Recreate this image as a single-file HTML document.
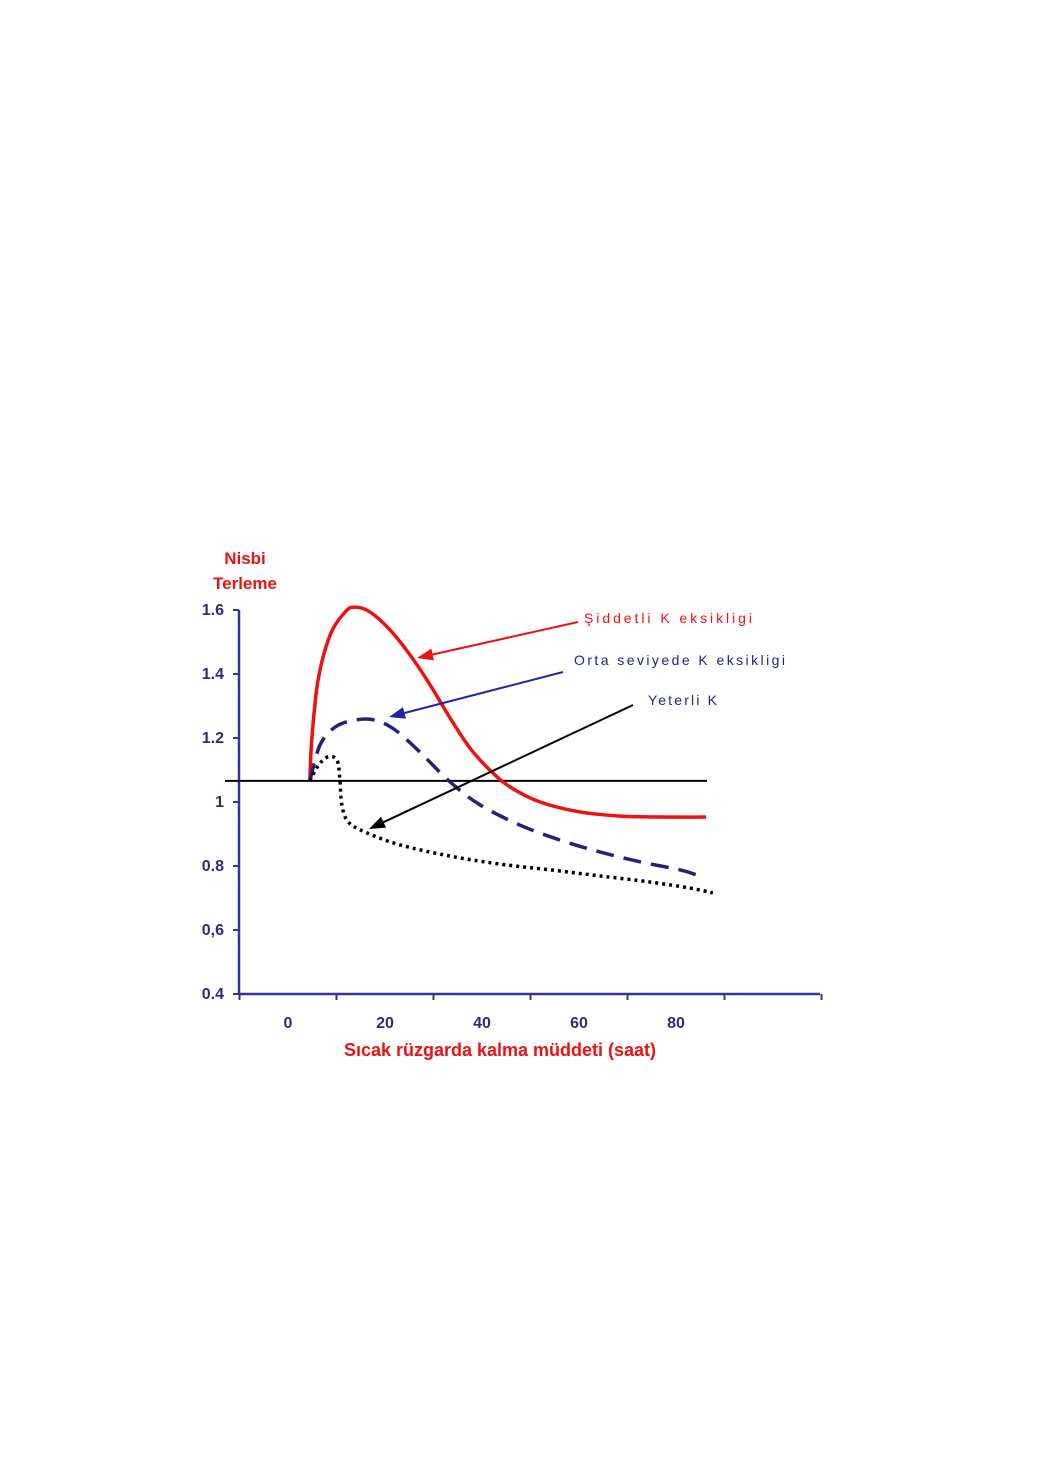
<!DOCTYPE html>
<html><head><meta charset="utf-8"><style>
html,body{margin:0;padding:0;background:#fff;}
svg{display:block;}
text{font-family:"Liberation Sans",sans-serif;}
</style></head><body>
<svg id="chart" width="1040" height="1473" viewBox="0 0 1040 1473" xmlns="http://www.w3.org/2000/svg">
<text x="245" y="564" fill="#ee1111" font-weight="bold" font-size="17" text-anchor="middle">Nisbi</text>
<text x="245" y="589" fill="#ee1111" font-weight="bold" font-size="17" text-anchor="middle">Terleme</text>
<text x="500" y="1056" fill="#ee1111" font-weight="bold" font-size="18" text-anchor="middle">Sıcak rüzgarda kalma müddeti (saat)</text>
<g id="axes"></g>
<g id="series"></g>
<g id="annotations">
<text x="584" y="623" fill="#ee1111" font-size="14" textLength="168" lengthAdjust="spacing">Şiddetli K eksikligi</text>
<text x="574" y="665" fill="#222288" font-size="14" textLength="211" lengthAdjust="spacing">Orta seviyede K eksikligi</text>
<text x="648" y="705" fill="#222288" font-size="14" textLength="69" lengthAdjust="spacing">Yeterli K</text>
</g>
</svg>
<script>
const xTickLabels = [0, 20, 40, 60, 80];
const yTickLabels = ["0.4", "0,6", "0.8", "1", "1.2", "1.4", "1.6"];
const yTickValues = [0.4, 0.6, 0.8, 1.0, 1.2, 1.4, 1.6];
const referenceLevel = 1.066;
const severeX = [4.5, 4.9, 6.2, 8.7, 11.8, 13.8, 16.9, 21.0, 25.2, 29.3, 33.4, 37.5, 41.6, 45.8, 52.0, 60.2, 68.5, 76.7, 86.2];
const severeY = [1.066, 1.194, 1.381, 1.522, 1.594, 1.609, 1.594, 1.538, 1.459, 1.366, 1.263, 1.169, 1.1, 1.047, 1.0, 0.969, 0.956, 0.953, 0.953];
const moderateX = [4.5, 6.6, 9.7, 13.8, 17.9, 22.1, 27.2, 33.4, 39.6, 47.8, 56.1, 64.3, 72.6, 80.8, 84.3];
const moderateY = [1.066, 1.178, 1.234, 1.256, 1.256, 1.225, 1.156, 1.063, 0.991, 0.928, 0.881, 0.844, 0.813, 0.788, 0.772];
const sufficientX = [4.5, 6.2, 8.2, 10.1, 10.7, 11.1, 12.4, 15.9, 23.1, 33.4, 43.7, 54.0, 64.3, 74.6, 82.9, 87.6];
const sufficientY = [1.066, 1.113, 1.141, 1.131, 1.069, 0.991, 0.938, 0.906, 0.866, 0.831, 0.806, 0.788, 0.769, 0.75, 0.731, 0.716];

const NS = "http://www.w3.org/2000/svg";
const sx = v => 288 + v * 4.85;
const sy = v => 994 - (v - 0.4) * 320;
function mk(tag, attrs, parent) {
  const e = document.createElementNS(NS, tag);
  for (const k in attrs) e.setAttribute(k, attrs[k]);
  parent.appendChild(e);
  return e;
}
const axes = document.getElementById("axes");
const yAxis = mk("line", {x1: 239, y1: sy(1.6), x2: 239, y2: sy(0.4), stroke: "#333399", "stroke-width": 2.5}, axes);


const xAxis = mk("line", {x1: 239, y1: sy(0.4), x2: 820, y2: sy(0.4), stroke: "#333399", "stroke-width": 2.5}, axes);


yTickValues.forEach((v, i) => {
  const t = mk("line", {x1: 233, y1: sy(v), x2: 239, y2: sy(v), stroke: "#333399", "stroke-width": 2}, axes);
  
  
  const l = mk("text", {x: 224, y: sy(v) + 5, fill: "#2b2b80", "font-size": 16, "font-weight": "bold", "text-anchor": "end"}, axes);
  
  
  l.textContent = yTickLabels[i];
});
for (let i = 0; i <= 6; i++) {
  const px = sx(-10 + 20 * i);
  const t = mk("line", {x1: px, y1: sy(0.4), x2: px, y2: sy(0.4) + 6, stroke: "#333399", "stroke-width": 2}, axes);
  
  
}
xTickLabels.forEach(v => {
  const l = mk("text", {x: sx(v), y: 1028, fill: "#2b2b80", "font-size": 16, "font-weight": "bold", "text-anchor": "middle"}, axes);
  
  
  l.textContent = v;
});
const ref = mk("line", {x1: 225, y1: sy(referenceLevel), x2: 707, y2: sy(referenceLevel), stroke: "#000", "stroke-width": 2}, axes);



function smoothPath(xs, ys) {
  const p = xs.map((x, i) => [sx(x), sy(ys[i])]);
  let d = "M" + p[0][0] + "," + p[0][1];
  for (let i = 0; i < p.length - 1; i++) {
    const p0 = p[Math.max(0, i - 1)], p1 = p[i], p2 = p[i + 1], p3 = p[Math.min(p.length - 1, i + 2)];
    const c1 = [p1[0] + (p2[0] - p0[0]) / 6, p1[1] + (p2[1] - p0[1]) / 6];
    const c2 = [p2[0] - (p3[0] - p1[0]) / 6, p2[1] - (p3[1] - p1[1]) / 6];
    d += " C" + c1 + " " + c2 + " " + p2;
  }
  return d;
}
const series = document.getElementById("series");
const s1 = mk("path", {d: smoothPath(severeX, severeY), fill: "none", stroke: "#ee1111", "stroke-width": 3.5}, series);


const s2 = mk("path", {d: smoothPath(moderateX, moderateY), fill: "none", stroke: "#22227a", "stroke-width": 3.5, "stroke-dasharray": "18,10"}, series);


const s3 = mk("path", {d: smoothPath(sufficientX, sufficientY), fill: "none", stroke: "#000", "stroke-width": 3.5, "stroke-dasharray": "3,4"}, series);



const ann = document.getElementById("annotations");
function arrow(x1, y1, x2, y2, color, name) {
  const g = mk("g", {}, ann);
  
  
  const a = Math.atan2(y2 - y1, x2 - x1), L = 16, W = 6;
  const bx = x2 - L * Math.cos(a), by = y2 - L * Math.sin(a);
  mk("line", {x1: x1, y1: y1, x2: bx, y2: by, stroke: color, "stroke-width": 2}, g);
  mk("polygon", {points: [x2, y2, bx + W * Math.sin(a), by - W * Math.cos(a), bx - W * Math.sin(a), by + W * Math.cos(a)].join(","), fill: color}, g);
}
arrow(578, 622, 417, 658, "#ee1111", "arrow-severe");
arrow(563, 672, 389, 717, "#2222aa", "arrow-moderate");
arrow(633, 705, 369, 829, "#000", "arrow-sufficient");
</script>
</body></html>
